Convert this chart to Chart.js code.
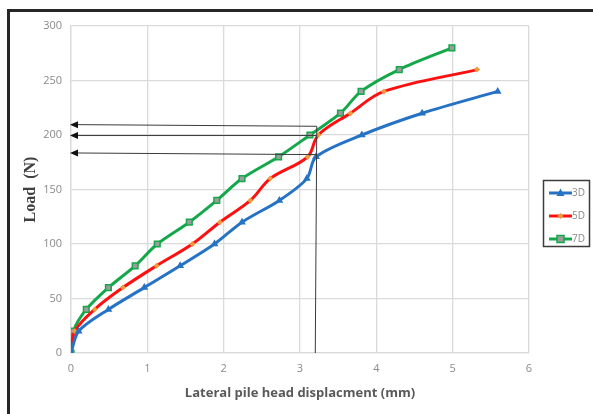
<!DOCTYPE html>
<html>
<head>
<meta charset="utf-8">
<script src="https://cdn.jsdelivr.net/npm/chart.js@4/dist/chart.umd.min.js"></script>
<style>
  body { margin: 0; background: #fff; }
  #wrap { position: relative; width: 593px; height: 414px; overflow: hidden; }
  #frame { position: absolute; left: 7px; top: 9px; width: 620px; height: 440px; border: 3px solid #262626; }
  #c { position: absolute; left: 0; top: 0; }
</style>
</head>
<body>
<div id="wrap">
  <div id="frame"></div>
  <canvas id="c" width="593" height="414"></canvas>
</div>
<script>
// displacement (mm) and load (N) per series
const x3D = [0, 0.1, 0.49, 0.96, 1.43, 1.88, 2.24, 2.73, 3.09, 3.21, 3.81, 4.6, 5.59];
const y3D = [0, 20, 40, 60, 80, 100, 120, 140, 160, 180, 200, 220, 240];
const x5D = [0, 0.05, 0.31, 0.68, 1.12, 1.59, 1.95, 2.35, 2.61, 3.1, 3.24, 3.66, 4.1, 5.32];
const y5D = [0, 20, 40, 60, 80, 100, 120, 140, 160, 180, 200, 220, 240, 260];
const x7D = [0, 0.03, 0.2, 0.49, 0.84, 1.13, 1.55, 1.91, 2.24, 2.72, 3.13, 3.53, 3.8, 4.3, 4.99];
const y7D = [0, 20, 40, 60, 80, 100, 120, 140, 160, 180, 200, 220, 240, 260, 280];

const seriesNames = ['3D', '5D', '7D'];
const lineColors = ['#2672c4', '#ff1010', '#14a84b'];

// guide arrows drawn on the chart (load at axis end, load at right end)
const arrowLeftLoads = [209.5, 199.5, 183.5];
const arrowRightLoads = [208, 199.5, 182];
const arrowEndX = 3.22;
const guideTopLoad = 208;
const guideX = 3.2;

function pts(xs, ys) {
  return xs.map((x, i) => ({ x: x, y: ys[i] }));
}

function drawMarker(ctx, style, x, y, fill, stroke) {
  ctx.save();
  ctx.fillStyle = fill;
  ctx.strokeStyle = stroke;
  ctx.lineWidth = 1.5;
  ctx.beginPath();
  if (style === 'triangle') {
    ctx.moveTo(x, y - 4.5);
    ctx.lineTo(x + 4, y + 3);
    ctx.lineTo(x - 4, y + 3);
    ctx.closePath();
    ctx.fill();
  } else if (style === 'rectRot') {
    ctx.moveTo(x, y - 3);
    ctx.lineTo(x + 3, y);
    ctx.lineTo(x, y + 3);
    ctx.lineTo(x - 3, y);
    ctx.closePath();
    ctx.fill();
  } else {
    ctx.rect(x - 3.5, y - 3.5, 7, 7);
    ctx.fill();
    ctx.stroke();
  }
  ctx.restore();
}

const extras = {
  id: 'extras',
  afterDatasetsDraw(chart) {
    const ctx = chart.ctx;
    const xs = chart.scales.x, ys = chart.scales.y;
    ctx.save();
    ctx.strokeStyle = '#3a3a3a';
    ctx.fillStyle = '#111';
    ctx.lineWidth = 1;
    // horizontal arrows
    arrowLeftLoads.forEach((ly, i) => {
      const x0 = xs.getPixelForValue(0) + 7;
      const y0 = ys.getPixelForValue(ly);
      const x1 = xs.getPixelForValue(arrowEndX);
      const y1 = ys.getPixelForValue(arrowRightLoads[i]);
      ctx.beginPath();
      ctx.moveTo(x0, y0);
      ctx.lineTo(x1, y1);
      ctx.stroke();
      ctx.beginPath();
      ctx.moveTo(x0 - 8, y0);
      ctx.lineTo(x0, y0 - 3.5);
      ctx.lineTo(x0, y0 + 3.5);
      ctx.closePath();
      ctx.fill();
    });
    // vertical guide
    ctx.beginPath();
    ctx.moveTo(xs.getPixelForValue(arrowEndX), ys.getPixelForValue(guideTopLoad));
    ctx.lineTo(xs.getPixelForValue(guideX), ys.getPixelForValue(0));
    ctx.stroke();
    ctx.restore();

    // legend
    ctx.save();
    ctx.strokeStyle = '#3c3c3c';
    ctx.lineWidth = 1.5;
    ctx.strokeRect(543.5, 180.5, 46, 66);
    ctx.font = '10px "Open Sans", sans-serif';
    ctx.textBaseline = 'middle';
    chart.data.datasets.forEach((ds, i) => {
      const yy = 193 + i * 23;
      ctx.strokeStyle = ds.borderColor;
      ctx.lineWidth = 3;
      ctx.beginPath();
      ctx.moveTo(549, yy);
      ctx.lineTo(572, yy);
      ctx.stroke();
      drawMarker(ctx, ds.pointStyle, 560.5, yy, ds.pointBackgroundColor, ds.pointBorderColor);
      ctx.fillStyle = '#8a8a8a';
      ctx.fillText(seriesNames[i], 572, yy + 0.5);
    });
    ctx.restore();
  }
};

new Chart(document.getElementById('c'), {
  type: 'scatter',
  data: {
    datasets: [
      {
        label: seriesNames[0], data: pts(x3D, y3D), showLine: true,
        borderColor: lineColors[0], borderWidth: 3, tension: 0.3,
        pointStyle: 'triangle', pointRadius: 4.5, pointBorderWidth: 0,
        pointBackgroundColor: '#2672c4', pointBorderColor: '#2672c4'
      },
      {
        label: seriesNames[1], data: pts(x5D, y5D), showLine: true,
        borderColor: lineColors[1], borderWidth: 3, tension: 0.35,
        pointStyle: 'rectRot', pointRadius: 3, pointBorderWidth: 0,
        pointBackgroundColor: '#f59a3c', pointBorderColor: '#f59a3c'
      },
      {
        label: seriesNames[2], data: pts(x7D, y7D), showLine: true,
        borderColor: lineColors[2], borderWidth: 3, tension: 0.3,
        pointStyle: 'rect', pointRadius: 4, pointBorderWidth: 1.5,
        pointBackgroundColor: '#9c9c9c', pointBorderColor: '#14a84b'
      }
    ]
  },
  options: {
    responsive: false,
    animation: false,
    layout: { padding: { top: 26, right: 64, left: 0, bottom: 0 } },
    plugins: { legend: { display: false }, tooltip: { enabled: false } },
    scales: {
      x: {
        type: 'linear', min: 0, max: 6,
        afterFit: s => { s.height = 61; },
        ticks: { stepSize: 1, color: '#8a8a8a', padding: 9, font: { family: 'Open Sans', size: 11 } },
        grid: { color: '#dadada', lineWidth: 1.3, drawTicks: false },
        border: { color: '#dadada', width: 1.3 },
        title: {
          display: true, text: 'Lateral pile head displacment (mm)', color: '#595959',
          font: { family: 'Open Sans', size: 13, weight: 'bold' }, padding: { bottom: 13 }
        }
      },
      y: {
        min: 0, max: 300,
        afterFit: s => { s.width = 71; },
        ticks: { stepSize: 50, color: '#8a8a8a', padding: 9, font: { family: 'Open Sans', size: 11 } },
        grid: { color: '#dadada', lineWidth: 1.3, drawTicks: false },
        border: { color: '#dadada', width: 1.3 },
        title: {
          display: true, text: 'Load  (N)', color: '#404040',
          font: { family: 'Liberation Serif', size: 16, weight: 'bold' }, padding: { top: 21 }
        }
      }
    }
  },
  plugins: [extras]
});
</script>
</body>
</html>
